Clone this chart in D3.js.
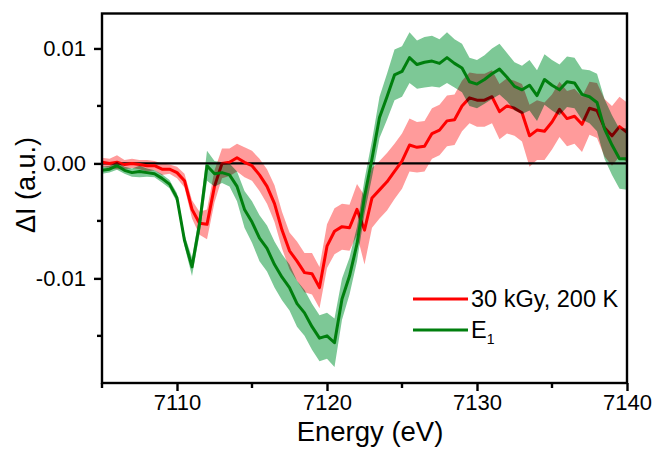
<!DOCTYPE html>
<html>
<head>
<meta charset="utf-8">
<script src="https://cdn.jsdelivr.net/npm/d3@7"></script>
<style>
  body { margin: 0; background: #fff; }
  svg { display: block; font-family: "Liberation Sans", Arial, sans-serif; }
</style>
</head>
<body>
<svg id="chart" width="657" height="451"></svg>
<script>
// energy grid (eV)
const energy = [
  7105, 7105.5, 7106, 7106.5, 7107, 7107.5, 7108, 7108.5, 7109, 7109.5,
  7110, 7110.5, 7111, 7111.5, 7112, 7112.5, 7113, 7113.5, 7114, 7114.5,
  7115, 7115.5, 7116, 7116.5, 7117, 7117.5, 7118, 7118.5, 7119, 7119.5,
  7120, 7120.5, 7121, 7121.5, 7122, 7122.5, 7123, 7123.5, 7124, 7124.5,
  7125, 7125.5, 7126, 7126.5, 7127, 7127.5, 7128, 7128.5, 7129, 7129.5,
  7130, 7130.5, 7131, 7131.5, 7132, 7132.5, 7133, 7133.5, 7134, 7134.5,
  7135, 7135.5, 7136, 7136.5, 7137, 7137.5, 7138, 7138.5, 7139, 7139.5,
  7140
];

// ΔI values, in units of 1e-3
const red = [
  0.1, 0.0, 0.1, -0.1, 0.0, -0.1, -0.2, -0.2, -0.5, -0.5,
  -0.8, -1.5, -4.0, -5.2, -5.3, -2.0, 0.0, 0.1, 0.5, 0.1,
  -0.2, -1.0, -2.0, -3.5, -5.8, -7.6, -8.5, -9.5, -9.6, -10.8,
  -7.2, -5.9, -5.5, -5.6, -4.0, -5.8, -3.0, -2.3, -1.6, -0.7,
  0.2, 1.6, 1.4, 1.5, 2.6, 2.9, 3.7, 3.8, 5.0, 5.7,
  5.5, 5.5, 5.8, 4.5, 5.0, 4.8, 4.4, 2.4, 2.9, 2.8,
  3.6, 4.7, 3.9, 4.1, 3.4, 4.8, 4.6, 3.1, 2.4, 3.2,
  2.7
];
const redErr = [
  0.4, 0.4, 0.6, 0.4, 0.4, 0.4, 0.5, 0.4, 0.5, 0.4,
  0.5, 0.6, 0.8, 1.0, 1.3, 1.4, 1.3, 1.2, 1.2, 1.3,
  1.3, 1.4, 1.5, 1.6, 1.6, 1.6, 1.7, 1.7, 1.8, 1.8,
  1.9, 2.0, 2.0, 2.0, 2.2, 3.0, 2.6, 2.5, 2.5, 2.4,
  2.4, 2.3, 2.2, 2.2, 2.2, 2.2, 2.2, 2.2, 2.2, 2.2,
  2.3, 2.3, 2.3, 2.4, 2.4, 2.4, 2.5, 2.7, 2.6, 2.5,
  2.4, 2.4, 2.4, 2.4, 2.4, 2.3, 2.4, 2.5, 2.6, 2.6,
  2.6
];
const green = [
  -0.6, -0.5, -0.2, -0.6, -0.8, -0.7, -0.8, -0.9, -1.3, -1.8,
  -3.0, -6.7, -9.0, -5.3, -0.2, -0.9, -0.8, -1.0, -2.0, -4.0,
  -5.1, -6.5, -7.4, -8.8, -9.9, -10.8, -12.2, -13.0, -14.2, -15.2,
  -15.0, -15.6, -11.8, -9.8, -7.0, -2.9, 0.4, 4.0, 5.8, 7.7,
  8.0, 9.2, 8.6, 8.8, 8.9, 8.7, 9.2, 8.7, 8.3, 7.1,
  6.9, 7.3, 7.8, 8.2, 7.5, 6.7, 6.4, 6.8, 5.9, 7.3,
  6.8, 6.4, 7.1, 7.0, 6.0, 5.8, 5.3, 3.0, 1.6, 0.4,
  0.4
];
const greenErr = [
  0.3, 0.3, 0.35, 0.3, 0.35, 0.5, 0.35, 0.3, 0.35, 0.35,
  0.4, 0.5, 0.8, 0.9, 1.3, 1.1, 0.9, 1.0, 1.3, 1.6,
  1.8, 2.0, 2.0, 2.0, 2.0, 2.0, 2.0, 2.0, 2.0, 2.0,
  2.0, 2.1, 1.8, 1.6, 1.5, 1.5, 1.6, 1.8, 2.0, 2.2,
  2.2, 2.2, 2.1, 2.2, 2.2, 2.1, 2.2, 2.1, 2.1, 2.1,
  2.1, 2.1, 2.2, 2.2, 2.1, 2.1, 2.1, 2.2, 2.2, 2.2,
  2.2, 2.2, 2.2, 2.2, 2.2, 2.3, 2.5, 2.6, 2.6, 2.6,
  2.7
];

const xTicks = [7110, 7120, 7130, 7140];
const xMinor = [7105, 7115, 7125, 7135];
const yTicks = [-10, 0, 10];          // x 1e-3
const yMinor = [-15, -5, 5];
const yTickLabels = ["-0.01", "0.00", "0.01"];

const seriesNames = ["30 kGy, 200 K", "E"];

const svg = d3.select("#chart");
const plot = { left: 102, right: 627, top: 13.5, bottom: 383 };

const x = d3.scaleLinear().domain([7105, 7140]).range([plot.left, plot.right]);
const y = d3.scaleLinear().domain([-19.1, 13.04]).range([plot.bottom, plot.top]);

const series = [
  { vals: red, err: redErr, band: "rgb(255,155,155)", line: "#ff0000" },
  { vals: green, err: greenErr, band: "rgb(125,200,150)", line: "#007f0e" }
];

svg.append("defs").append("clipPath").attr("id", "plotclip")
  .append("rect")
  .attr("x", plot.left).attr("y", plot.top)
  .attr("width", plot.right - plot.left).attr("height", plot.bottom - plot.top);

const g = svg.append("g").attr("clip-path", "url(#plotclip)");

// zero line
g.append("line")
  .attr("x1", plot.left).attr("x2", plot.right)
  .attr("y1", y(0)).attr("y2", y(0))
  .attr("stroke", "#000").attr("stroke-width", 2.4);

series.forEach(s => {
  const pts = energy.map((e, i) => ({ e, v: s.vals[i], d: s.err[i] }));
  const area = d3.area()
    .x(d => x(d.e))
    .y0(d => y(d.v - d.d))
    .y1(d => y(d.v + d.d));
  const line = d3.line().x(d => x(d.e)).y(d => y(d.v));

  g.append("path")
    .datum(pts)
    .attr("d", area)
    .attr("fill", s.band)
    .style("mix-blend-mode", "multiply");

  g.append("path")
    .datum(pts)
    .attr("d", line)
    .attr("fill", "none")
    .attr("stroke", s.line)
    .attr("stroke-width", 3)
    .attr("stroke-linejoin", "round");
});

// frame
svg.append("rect")
  .attr("x", plot.left).attr("y", plot.top)
  .attr("width", plot.right - plot.left).attr("height", plot.bottom - plot.top)
  .attr("fill", "none").attr("stroke", "#000").attr("stroke-width", 2.4);

// x axis
const xAxis = svg.append("g")
  .attr("transform", `translate(0,${plot.bottom})`)
  .call(d3.axisBottom(x).tickValues(xTicks).tickSize(8).tickPadding(3).tickFormat(d3.format("d")));
xAxis.select(".domain").remove();
xAxis.selectAll("line").attr("stroke-width", 2.4);
xAxis.selectAll("text").attr("font-size", 22).attr("fill", "#000")
  .attr("font-family", "Liberation Sans, Arial, sans-serif");

svg.append("g").selectAll("line").data(xMinor).join("line")
  .attr("x1", d => x(d)).attr("x2", d => x(d))
  .attr("y1", plot.bottom).attr("y2", plot.bottom + 5)
  .attr("stroke", "#000").attr("stroke-width", 2.4);

// y axis
const yAxis = svg.append("g")
  .attr("transform", `translate(${plot.left},0)`)
  .call(d3.axisLeft(y).tickValues(yTicks).tickSize(8).tickPadding(8)
    .tickFormat((d, i) => yTickLabels[i]));
yAxis.select(".domain").remove();
yAxis.selectAll("line").attr("stroke-width", 2.4);
yAxis.selectAll("text").attr("font-size", 22).attr("fill", "#000")
  .attr("font-family", "Liberation Sans, Arial, sans-serif");

svg.append("g").selectAll("line").data(yMinor).join("line")
  .attr("x1", plot.left - 5).attr("x2", plot.left)
  .attr("y1", d => y(d)).attr("y2", d => y(d))
  .attr("stroke", "#000").attr("stroke-width", 2.4);

// axis titles
svg.append("text")
  .attr("x", 370).attr("y", 441)
  .attr("text-anchor", "middle")
  .attr("font-size", 27.5)
  .text("Energy (eV)");

svg.append("text")
  .attr("transform", "translate(35,185) rotate(-90)")
  .attr("text-anchor", "middle")
  .attr("font-size", 27)
  .text("ΔI (a.u.)");

// legend
const legend = svg.append("g");
[299, 330].forEach((ly, i) => {
  legend.append("line")
    .attr("x1", 413).attr("x2", 468)
    .attr("y1", ly).attr("y2", ly)
    .attr("stroke", series[i].line).attr("stroke-width", 3);
});
legend.append("text")
  .attr("x", 471).attr("y", 307)
  .attr("font-size", 23.5)
  .text(seriesNames[0]);
const e1 = legend.append("text")
  .attr("x", 471).attr("y", 338)
  .attr("font-size", 23.5)
  .text(seriesNames[1]);
e1.append("tspan")
  .attr("font-size", 14)
  .attr("dy", 6)
  .text("1");
</script>
</body>
</html>
